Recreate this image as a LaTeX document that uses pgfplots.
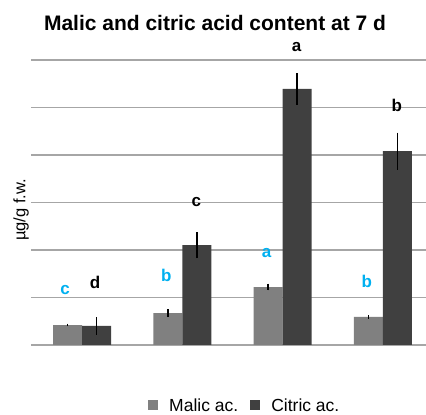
\documentclass[border=0pt]{standalone}
\usepackage{fontspec}
\setmainfont{Liberation Sans}
\usepackage{pgfplots}
\pgfplotsset{compat=1.18}
\definecolor{malic}{HTML}{808080}
\definecolor{citric}{HTML}{404040}
\definecolor{gridc}{HTML}{A6A6A6}
\definecolor{lblue}{HTML}{00B0F0}
\begin{document}
\begin{tikzpicture}
\useasboundingbox (0,0) rectangle (426pt,415pt);
\begin{axis}[
    at={(31pt,70pt)}, anchor=south west,
    scale only axis,
    width=395pt, height=285pt,
    xmin=-0.51, xmax=3.43,
    ymin=0, ymax=6,
    ybar, bar width=0.29,
    ytick={0,1,...,6}, yticklabels={},
    xtick=\empty,
    ymajorgrids, grid style={gridc, line width=1.3pt},
    axis line style={draw=none},
    major tick length=0pt,
    clip=false,
    legend columns=2,
    legend style={draw=none, at={(0.54,-0.212)}, anchor=center,
        font=\fontsize{17.5}{19}\selectfont, column sep=10pt,
        nodes={inner xsep=1.5pt, inner ysep=1pt}, inner sep=0pt},
    legend image code/.code={\fill[#1] (0pt,-5pt) rectangle (10pt,5pt);},
    error bars/y dir=both, error bars/y explicit,
    error bars/error mark=none,
    error bars/error bar style={black, line width=1.4pt},
]
\addplot[fill=malic, draw=none, bar shift=-0.145] coordinates {
    (0,0.42) +- (0,0.03)
    (1,0.67) +- (0,0.08)
    (2,1.22) +- (0,0.07)
    (3,0.59) +- (0,0.04)
};
\addlegendentry{Malic ac.}
\addplot[fill=citric, draw=none, bar shift=0.145] coordinates {
    (0,0.40) +- (0,0.18)
    (1,2.10) +- (0,0.27)
    (2,5.39) +- (0,0.33)
    (3,4.08) +- (0,0.39)
};
\addlegendentry{Citric ac.}
% significance letters
\begin{scope}[font=\bfseries\fontsize{17}{19}\selectfont]
\node[lblue] at (axis cs:-0.17,1.16) {c};
\node[lblue] at (axis cs:0.84,1.47) {b};
\node[lblue] at (axis cs:1.84,1.94) {a};
\node[lblue] at (axis cs:2.84,1.33) {b};
\node[black] at (axis cs:0.13,1.31) {d};
\node[black] at (axis cs:1.14,3.01) {c};
\node[black] at (axis cs:2.14,6.27) {a};
\node[black] at (axis cs:3.14,5.05) {b};
\end{scope}
\end{axis}
\node[font=\bfseries\fontsize{21}{25}\selectfont] at (215pt,392pt) {Malic and citric acid content at 7 d};
\node[rotate=90, font=\fontsize{16.5}{18}\selectfont] at (21pt,205pt) {µg/g f.w.};
\end{tikzpicture}
\end{document}
